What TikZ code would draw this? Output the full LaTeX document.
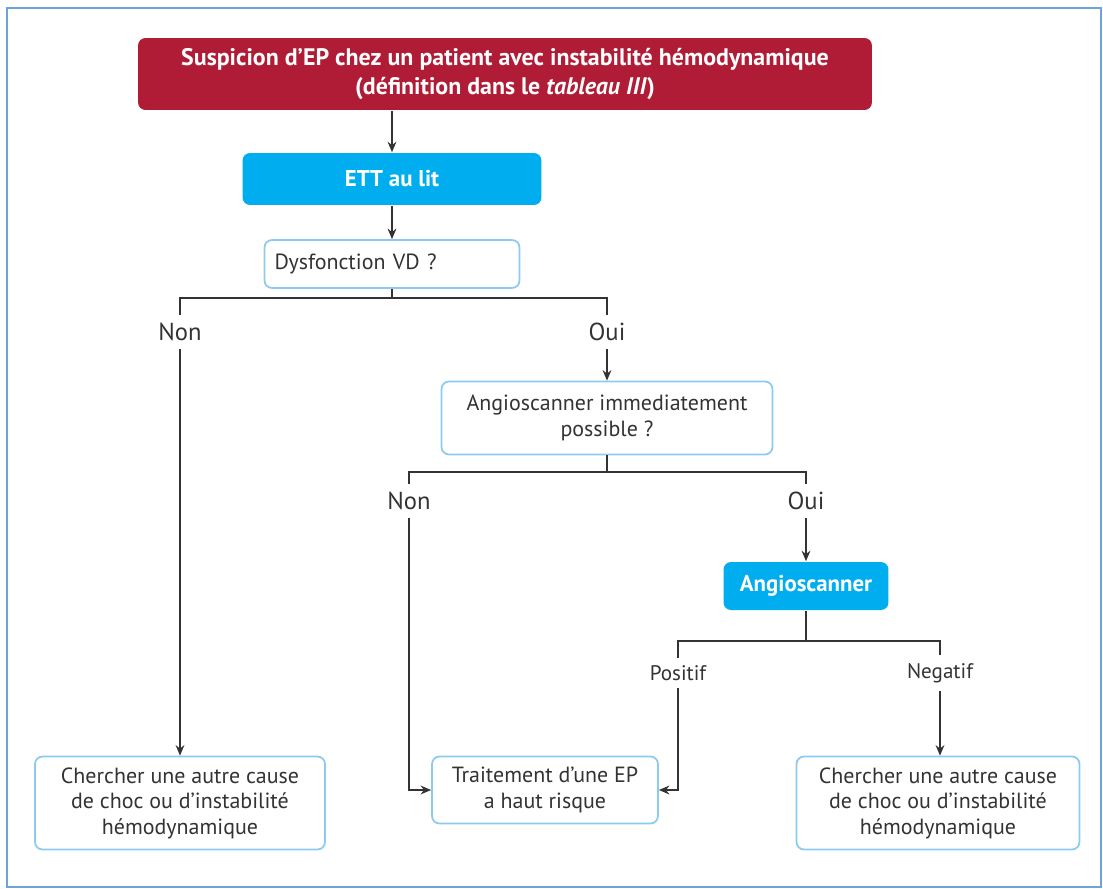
\documentclass[tikz,border=0pt]{standalone}
\usepackage{fontspec}
\setmainfont{PT Sans}
\usetikzlibrary{arrows.meta}
\definecolor{rouge}{HTML}{B01C35}
\definecolor{bleu}{HTML}{00AEEF}
\definecolor{bord}{HTML}{8CCBF0}
\definecolor{cadre}{HTML}{6AA6DC}
\definecolor{trait}{HTML}{333333}
\tikzset{
	boite/.style={draw=bord,line width=1pt,rounded corners=0.15cm,align=center,inner sep=0pt,text=trait,font=\fontsize{12.5}{14.5}\selectfont},
	pleine/.style={fill=bleu,rounded corners=0.15cm,inner sep=0pt,text=white,font=\bfseries\fontsize{13}{15}\selectfont},
	rep/.style={text=trait,inner sep=4pt,font=\fontsize{14}{16}\selectfont},
	petit/.style={text=trait,inner sep=4pt,font=\fontsize{12}{14}\selectfont}
}
\begin{document}
\begin{tikzpicture}[>={Stealth[length=6pt,width=5pt]},x=0.02cm,y=-0.02cm,line width=0.9pt]
	\useasboundingbox (0,0) rectangle (1103,889);
	\draw[cadre,line width=1.4pt] (7,8) rectangle (1101,887);
	% noeuds
	\node[fill=rouge,rounded corners=0.15cm,inner sep=0pt,minimum width=14.68cm,minimum height=1.44cm,align=center,text=white,font=\bfseries\fontsize{13.6}{16}\selectfont] (top) at (505,74) {Suspicion d’EP chez un patient avec instabilité hémodynamique\\(définition dans le \textit{tableau III})};
	\node[pleine,minimum width=5.98cm,minimum height=1.04cm] (ett) at (392,179) {ETT au lit};
	\node[boite,minimum width=5.1cm,minimum height=0.96cm,text width=4.7cm,align=left] (dys) at (392,264) {Dysfonction VD ?};
	\node[rep] (non1) at (180,332) {Non};
	\node[rep] (oui1) at (607,332) {Oui};
	\node[boite,minimum width=6.62cm,minimum height=1.46cm] (ang) at (607,418) {Angioscanner immediatement\\possible ?};
	\node[rep] (non2) at (409,501) {Non};
	\node[rep] (oui2) at (806,501) {Oui};
	\node[pleine,minimum width=3.3cm,minimum height=0.96cm] (scan) at (806,586) {Angioscanner};
	\node[petit] (pos) at (678,673) {Positif};
	\node[petit] (neg) at (940,673) {Negatif};
	\node[boite,minimum width=5.8cm,minimum height=1.86cm] (gauche) at (180,803) {Chercher une autre cause\\de choc ou d’instabilité\\hémodynamique};
	\node[boite,minimum width=4.52cm,minimum height=1.34cm] (trt) at (545,790) {Traitement d’une EP\\a haut risque};
	\node[boite,minimum width=5.66cm,minimum height=1.86cm] (droite) at (938,803) {Chercher une autre cause\\de choc ou d’instabilité\\hémodynamique};
	% liens
	\begin{scope}[trait]
		\draw[->] (top.south -| ett) -- (ett);
		\draw[->] (ett) -- (dys);
		\coordinate (j1) at (392,298);
		\draw (dys) -- (j1) -| (non1);
		\draw (j1) -| (oui1);
		\draw[->] (non1) -- (gauche);
		\draw[->] (oui1) -- (ang);
		\coordinate (j2) at (607,472);
		\draw (ang) -- (j2) -| (non2);
		\draw (j2) -| (oui2);
		\draw[->] (non2) |- (trt);
		\draw[->] (oui2) -- (scan);
		\coordinate (j3) at (806,641);
		\draw (scan) -- (j3) -| (pos);
		\draw (j3) -| (neg);
		\draw[->] (pos) |- (trt);
		\draw[->] (neg) -- (neg |- droite.north);
	\end{scope}
\end{tikzpicture}
\end{document}
